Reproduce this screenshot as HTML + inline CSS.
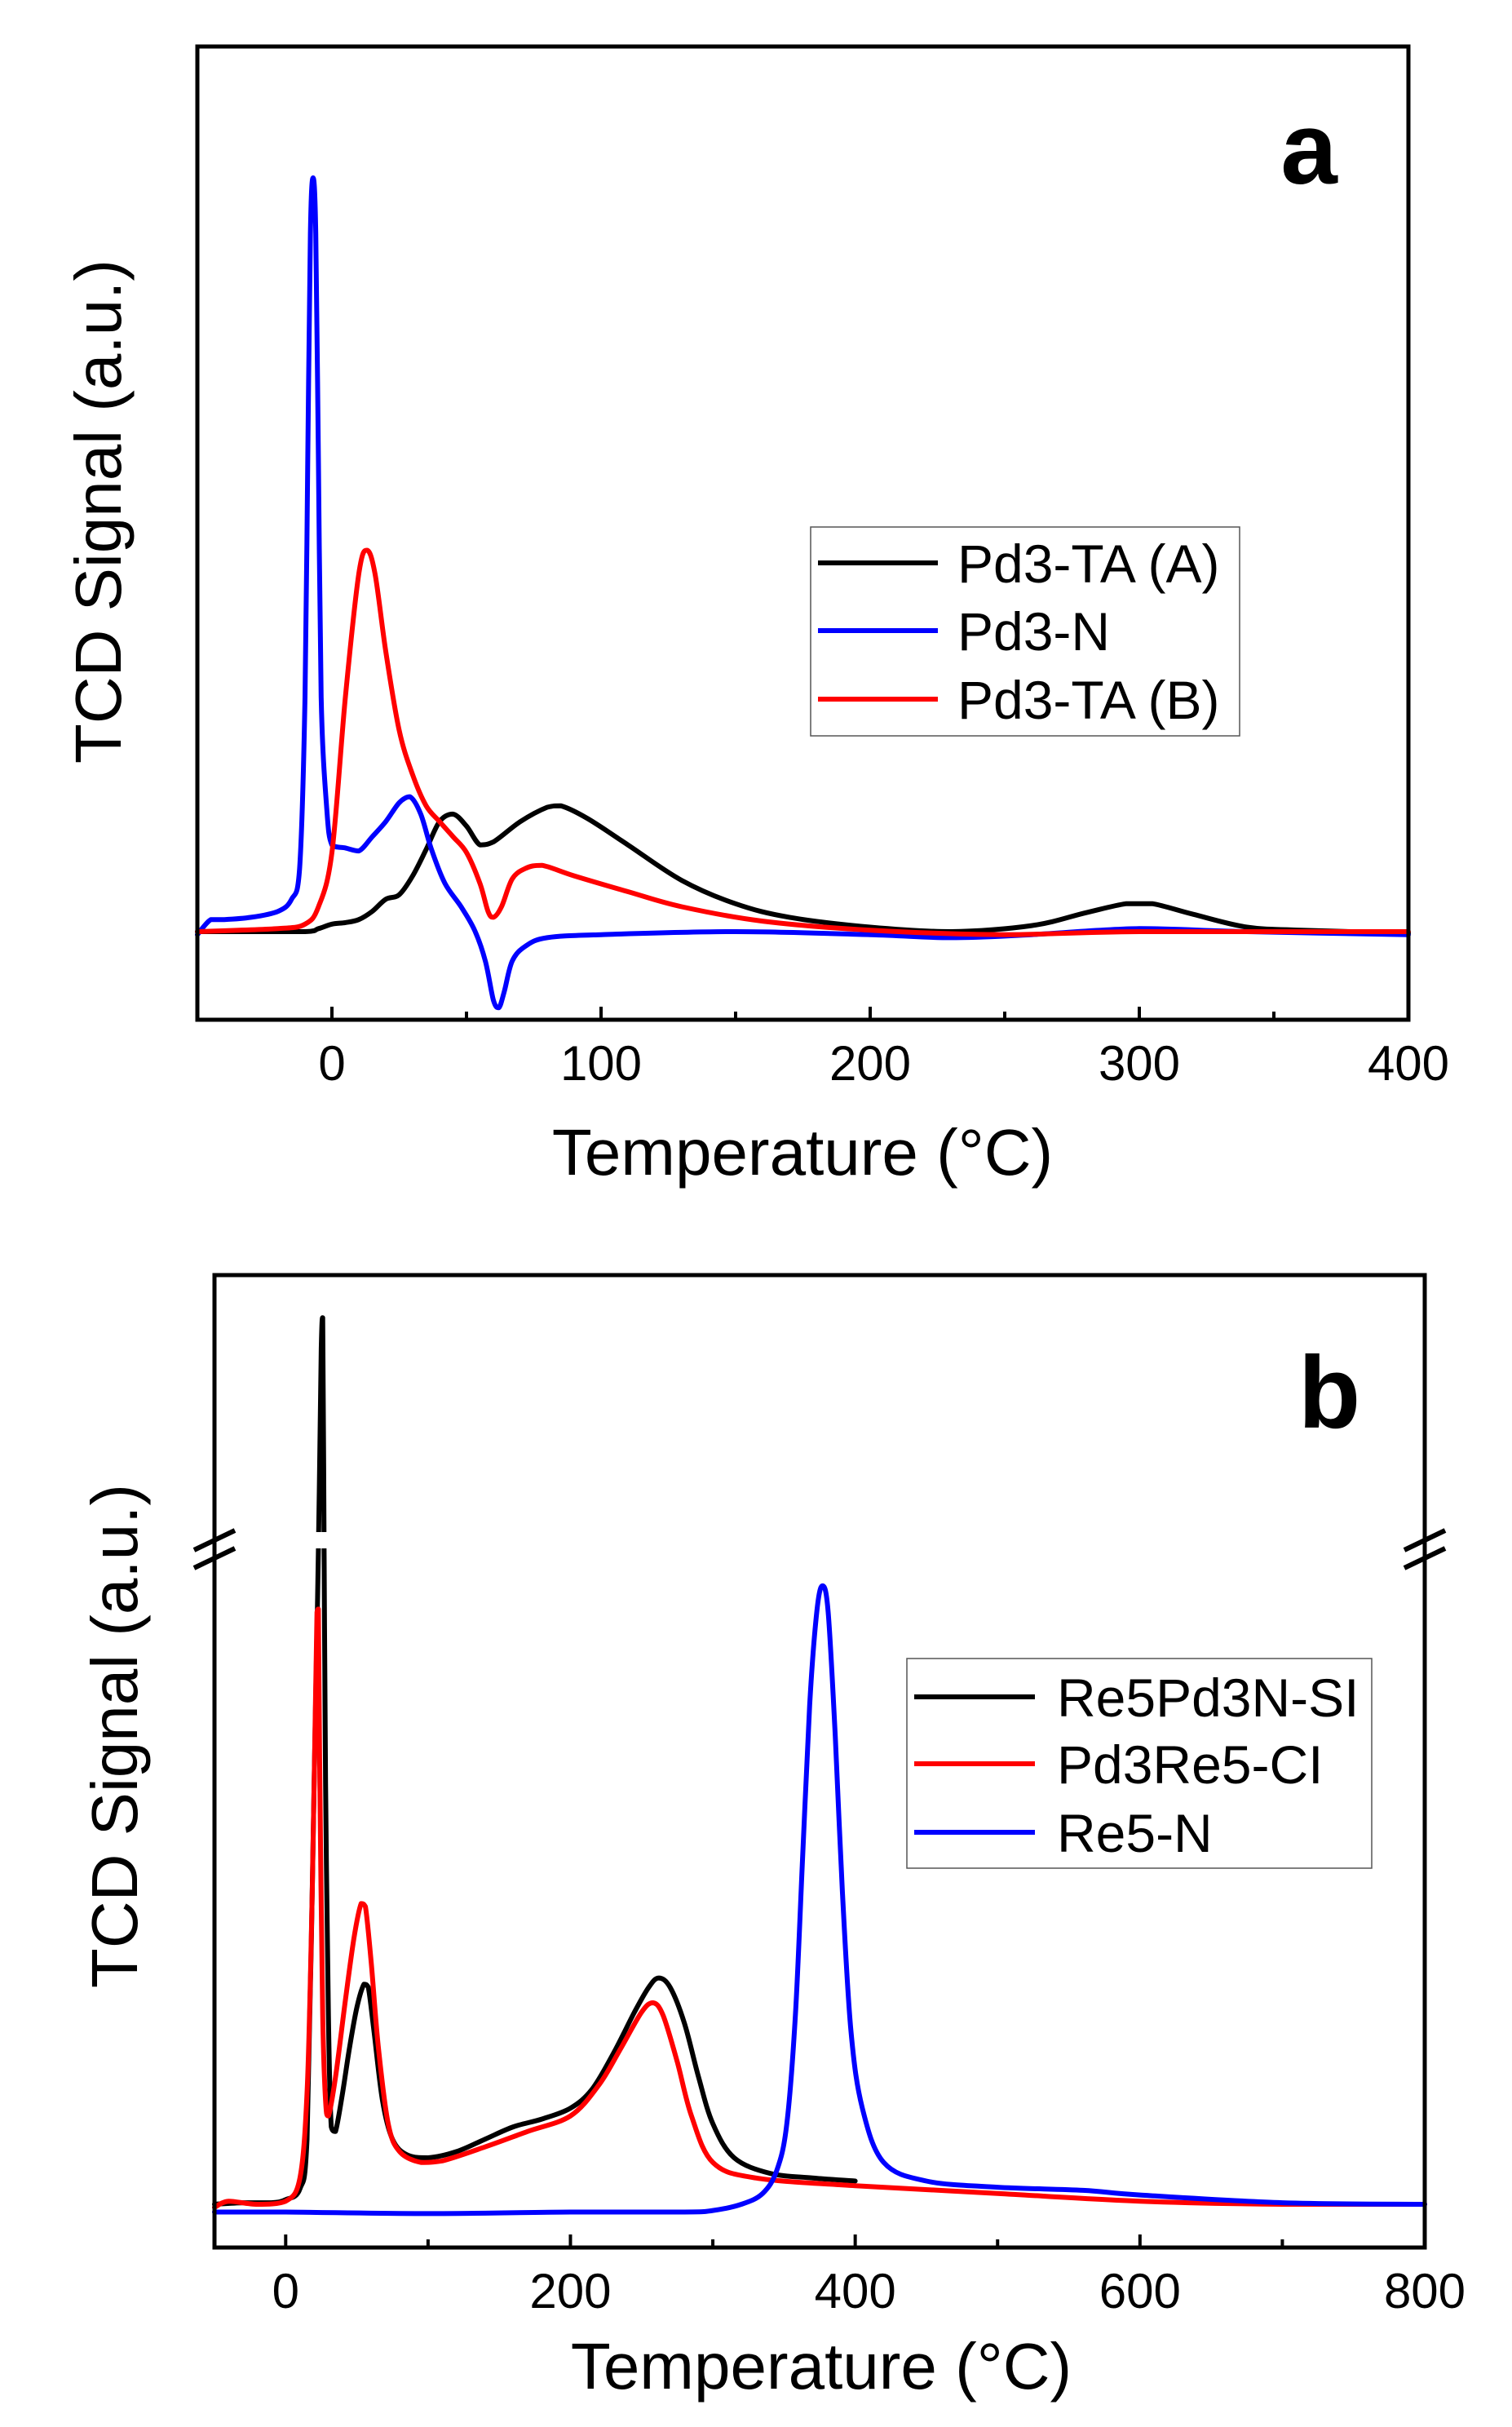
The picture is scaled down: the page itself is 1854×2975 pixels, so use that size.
<!DOCTYPE html>
<html><head><meta charset="utf-8">
<style>
html,body{margin:0;padding:0;background:#fff;}
svg{display:block;font-family:"Liberation Sans",Arial,sans-serif;}
</style></head>
<body>
<svg id="fig" width="1854" height="2975" viewBox="0 0 1854 2975" xmlns="http://www.w3.org/2000/svg"></svg>
<script>
// ---------- Panel a data ----------
const aTicks = [0,100,200,300,400];
const aMinorTicks = [-50,0,50,100,150,200,250,300,350,400];
const aBlueT = [-50,-45,-40,-30,-20,-15,-12,-10,-9,-8,-7,-6,-5,-4,-2,0,5,10,15,20,25,29,33,37,42,48,53,57,60,62,64,67,72,80,100,150,200,230,260,300,340,400];
const aBlueS = [-0.4,1.6,1.6,1.9,2.7,4.3,8.4,31.1,61.9,92.6,100,92.6,61.9,31.1,16.7,11.5,11.1,10.7,12.6,14.6,17.1,17.9,15.6,10.9,6.4,3.3,0.2,-3.9,-9.1,-10.1,-8.0,-3.9,-1.9,-0.8,-0.4,0,-0.4,-0.8,-0.4,0.4,0,-0.4];
const aBlackT = [-50,-10,-5,0,5,10,15,20,25,30,35,40,45,50,55,60,70,80,85,95,110,130,150,170,200,230,260,280,295,305,320,340,360,400];
const aBlackS = [0,0,0.4,1.0,1.2,1.6,2.7,4.3,4.9,7.4,10.9,14.6,15.6,14.0,11.5,11.9,14.6,16.5,16.7,15.0,11.5,6.8,3.7,1.9,0.6,0,0.8,2.5,3.7,3.7,2.3,0.6,0.2,-0.2];
const aRedT = [-50,-20,-10,-5,0,5,10,13,16,20,25,30,35,40,45,50,55,58,60,63,67,72,78,90,110,130,160,200,250,300,400];
const aRedS = [0,0.4,1.0,3.3,10.5,31.1,47.5,50.6,47.5,37.2,26.7,20.8,16.7,14.6,12.6,10.5,6.4,2.7,1.9,3.3,7.0,8.4,8.8,7.4,5.3,3.3,1.4,0.2,-0.4,0,0];
// ---------- Panel b data ----------
const bTicks = [0,200,400,600,800];
const bMinorTicks = [0,100,200,300,400,500,600,700,800];
const bBlackT = [-50,-30,-10,0,10,15,20,23,25,26,27,28,30,32,35,40,45,50,55,58,62,68,75,85,100,120,140,160,180,200,215,230,245,255,262,270,280,290,300,315,340,370,400];
const bBlackS = [0,0.25,0.25,0.75,2.5,10.5,68,105.5,138,143,105.5,68,30.5,12.5,11.75,18,25.5,31.75,35.5,35,28,16.75,10.5,8,7.5,8.5,10.5,12.5,13.75,15.5,18.5,24.25,31,35,36.5,35,29.25,20.5,13,7.5,5,4.25,3.75];
const bRedT = [-50,-40,-20,0,10,15,18,20,22,23,24,26,28,30,35,42,48,53,56,60,65,72,80,95,110,140,170,200,220,235,250,258,265,275,285,300,330,400,500,600,700,800];
const bRedS = [-0.5,0.5,0,0.5,4.25,18,43,68,95.5,96,68,30.5,16.75,14.25,20.5,33,43,48.5,48,39.25,25.5,13,8.5,6.75,7,9.25,11.75,14.25,19.25,25,31,32.5,30.5,23,14.25,6.75,4.25,3,1.75,0.5,0,0];
const bBlueT = [-50,0,100,200,280,300,320,335,345,352,358,363,368,373,377,381,386,391,397,405,420,450,500,560,600,700,800];
const bBlueS = [-1.25,-1.25,-1.5,-1.25,-1.25,-1,0,1.75,5.5,13,30.5,55.5,80.5,95.5,99.75,95.5,75.5,50.5,28,15.5,6.75,3.75,2.75,2.25,1.5,0.25,0];

const NS="http://www.w3.org/2000/svg";
const svg=document.getElementById('fig');
function mk(tag,attrs,parent){const e=document.createElementNS(NS,tag);for(const k in attrs)e.setAttribute(k,attrs[k]);(parent||svg).appendChild(e);return e;}

function smoothPath(pts){
  let d='M'+pts[0][0].toFixed(1)+','+pts[0][1].toFixed(1);
  for(let i=0;i<pts.length-1;i++){
    const p0=pts[Math.max(0,i-1)],p1=pts[i],p2=pts[i+1],p3=pts[Math.min(pts.length-1,i+2)];
    const lo=Math.min(p1[1],p2[1]),hi=Math.max(p1[1],p2[1]);
    let c1x=p1[0]+(p2[0]-p0[0])/6, c1y=p1[1]+(p2[1]-p0[1])/6;
    let c2x=p2[0]-(p3[0]-p1[0])/6, c2y=p2[1]-(p3[1]-p1[1])/6;
    c1x=Math.min(Math.max(c1x,p1[0]),p2[0]); c2x=Math.min(Math.max(c2x,p1[0]),p2[0]);
    c1y=Math.min(Math.max(c1y,lo),hi); c2y=Math.min(Math.max(c2y,lo),hi);
    d+='C'+c1x.toFixed(1)+','+c1y.toFixed(1)+' '+c2x.toFixed(1)+','+c2y.toFixed(1)+' '+p2[0].toFixed(1)+','+p2[1].toFixed(1);
  }
  return d;
}

function panel(cfg){
  const g=mk('g',{});
  
  
  const xs=v=>cfg.L+(v-cfg.xmin)/(cfg.xmax-cfg.xmin)*(cfg.R-cfg.L);
  const ys=s=>cfg.base-s*cfg.k;
  cfg.series.forEach(se=>{
    const pts=se.t.map((t,i)=>[xs(t),ys(se.s[i])]);
    const p=mk('path',{d:smoothPath(pts),fill:'none',stroke:se.color,'stroke-width':6,'stroke-linejoin':'round','stroke-linecap':'round'},g);
    
    
  });
  if(cfg.gap){
    const r=mk('rect',{x:xs(cfg.gap.t)-20,y:cfg.gap.y1,width:40,height:cfg.gap.y2-cfg.gap.y1,fill:'#fff'},g);
    
    
  }
  const fr=mk('rect',{x:cfg.L,y:cfg.T,width:cfg.R-cfg.L,height:cfg.B-cfg.T,fill:'none',stroke:'#000','stroke-width':5},g);
  
  
  cfg.minor.forEach(v=>{
    const major=cfg.major.indexOf(v)>=0;
    const tk=mk('line',{x1:xs(v),x2:xs(v),y1:cfg.B,y2:cfg.B-(major?16:10),stroke:'#000','stroke-width':4},g);
    
    
  });
  cfg.major.forEach(v=>{
    const tl=mk('text',{x:xs(v),y:cfg.B+74,'font-size':60,'text-anchor':'middle'},g);
    tl.textContent=v;
    
    
  });
  const xt=mk('text',{x:cfg.xtx,y:cfg.xty,'font-size':80,'text-anchor':'middle'},g);
  xt.textContent='Temperature (°C)';
  
  
  const yt=mk('text',{x:0,y:0,'font-size':80,'text-anchor':'middle',transform:'translate('+cfg.ytx+','+cfg.yty+') rotate(-90)'},g);
  yt.textContent='TCD Signal (a.u.)';
  
  
  const pl=mk('text',{x:cfg.lx,y:cfg.ly,'font-size':125,'font-weight':'bold','text-anchor':'middle'},g);
  pl.textContent=cfg.letter;
  
  
  const lg=mk('g',{},g);
  
  
  mk('rect',{x:cfg.leg.x,y:cfg.leg.y,width:cfg.leg.w,height:cfg.leg.h,fill:'#fff',stroke:'#555','stroke-width':1.5},lg);
  cfg.series.forEach((se,i)=>{
    const yy=cfg.leg.rows[i];
    const ll=mk('line',{x1:cfg.leg.lx1,x2:cfg.leg.lx2,y1:yy,y2:yy,stroke:se.color,'stroke-width':6},lg);
    
    
    const lt=mk('text',{x:cfg.leg.tx,y:yy+24,'font-size':66},lg);
    lt.textContent=se.label;
    
    
  });
  if(cfg.breakY){
    [cfg.L,cfg.R].forEach(bx=>{
      [0,22].forEach(off=>{
        const bl=mk('line',{x1:bx-25,y1:cfg.breakY+12+off,x2:bx+25,y2:cfg.breakY-12+off,stroke:'#000','stroke-width':6},g);
        
        
      });
    });
  }
}

panel({name:'panel-a',L:242,R:1727,T:57,B:1250,xmin:-50,xmax:400,base:1142,k:9.24,
  major:aTicks,minor:aMinorTicks,xtx:984,xty:1440,ytx:148,yty:627,letter:'a',lx:1605,ly:225,
  series:[
    {id:'series-pd3-ta-a',label:'Pd3-TA (A)',color:'#000',t:aBlackT,s:aBlackS},
    {id:'series-pd3-n',label:'Pd3-N',color:'#0000ff',t:aBlueT,s:aBlueS},
    {id:'series-pd3-ta-b',label:'Pd3-TA (B)',color:'#ff0000',t:aRedT,s:aRedS}],
  leg:{x:994,y:646,w:526,h:256,rows:[690,773,857],lx1:1003,lx2:1150,tx:1174}});

panel({name:'panel-b',L:263,R:1747,T:1563,B:2755,xmin:-50,xmax:800,base:2702,k:7.6,
  major:bTicks,minor:bMinorTicks,xtx:1007,xty:2928,ytx:168,yty:2128,letter:'b',lx:1630,ly:1750,
  gap:{t:26,y1:1878,y2:1898},breakY:1888,
  series:[
    {id:'series-re5pd3n-si',label:'Re5Pd3N-SI',color:'#000',t:bBlackT,s:bBlackS},
    {id:'series-pd3re5-ci',label:'Pd3Re5-CI',color:'#ff0000',t:bRedT,s:bRedS},
    {id:'series-re5-n',label:'Re5-N',color:'#0000ff',t:bBlueT,s:bBlueS}],
  leg:{x:1112,y:2033,w:570,h:257,rows:[2080,2162,2246],lx1:1121,lx2:1269,tx:1296}});
</script>
</body></html>
